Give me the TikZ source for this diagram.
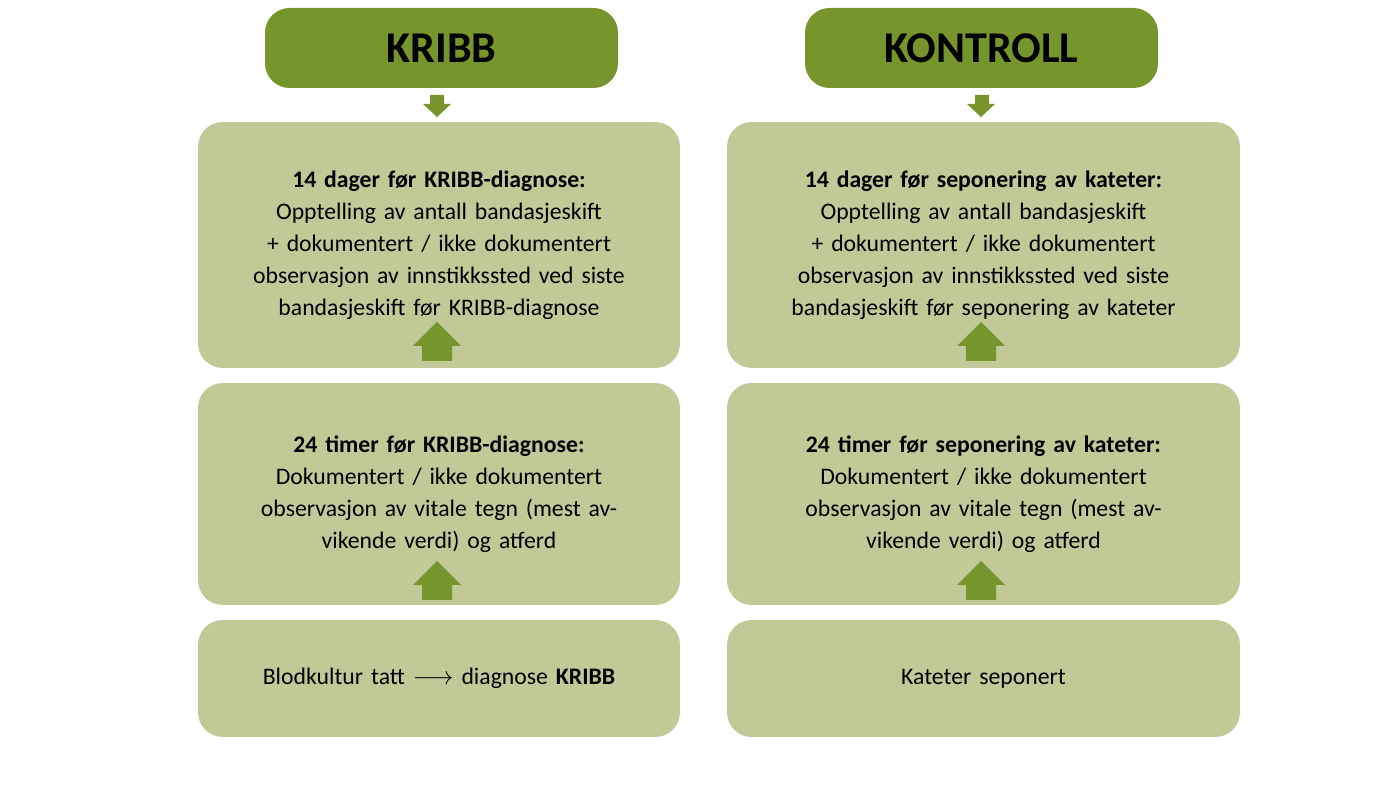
\documentclass[tikz,border=0pt]{standalone}
\usepackage{fontspec}
\setmainfont{Carlito}
\usetikzlibrary{calc,positioning}
\definecolor{darkgreen}{HTML}{77952D}
\definecolor{lightgreen}{HTML}{C2C996}

\newcommand{\blockarrow}[4]{% top y, centre x, shaft half, head half (px)
  \fill[darkgreen] ($(#2,#1)+(-#3,0)$) -- ++(2*#3,0) -- ++(0,-15) -- ++(#4-#3,0)
    -- ($(#2,#1)+(0,-39)$) -- ($(#2,#1)+(-#4,-15)$) -- ++(#4-#3,0) -- cycle;}

\begin{document}
\begin{tikzpicture}[x=0.02cm, y=-0.02cm,
    head_style/.style={rectangle, rounded corners=14pt, fill=darkgreen, minimum width=7.06cm,
      minimum height=1.6cm, font=\fontsize{25}{30}\selectfont\bfseries},
    box_style/.style={rectangle, rounded corners=14pt, fill=lightgreen, minimum width=9.64cm,
      align=center, text width=9.4cm, font=\fontsize{13.5}{18.2}\selectfont}]

  \useasboundingbox (0,0) rectangle (1400,786);

  % left column
  \node[head_style] (h1) at (441.5,48) {KRIBB};
  \node[box_style, minimum height=4.92cm] (a1) at (439,245) {\textbf{14 dager før KRIBB-diagnose:}\\
    Opptelling av antall bandasjeskift\\ + dokumentert / ikke dokumentert\\
    observasjon av innstikkssted ved siste\\ bandasjeskift før KRIBB-diagnose};
  \node[box_style, minimum height=4.44cm] (a2) at (439,494) {\textbf{24 timer før KRIBB-diagnose:}\\
    Dokumentert / ikke dokumentert\\ observasjon av vitale tegn (mest av-\\ vikende verdi) og atferd};
  \node[box_style, minimum height=2.34cm] (a3) at (439,678.5) {Blodkultur tatt $\longrightarrow$ diagnose \textbf{KRIBB}};

  % right column
  \node[head_style] (h2) at (981.5,48) {KONTROLL};
  \node[box_style, minimum width=10.26cm, text width=10cm, minimum height=4.92cm] (b1) at (983.5,245)
    {\textbf{14 dager før seponering av kateter:}\\
    Opptelling av antall bandasjeskift\\ + dokumentert / ikke dokumentert\\
    observasjon av innstikkssted ved siste\\ bandasjeskift før seponering av kateter};
  \node[box_style, minimum width=10.26cm, text width=10cm, minimum height=4.44cm] (b2) at (983.5,494)
    {\textbf{24 timer før seponering av kateter:}\\
    Dokumentert / ikke dokumentert\\ observasjon av vitale tegn (mest av-\\ vikende verdi) og atferd};
  \node[box_style, minimum width=10.26cm, text width=10cm, minimum height=2.34cm] (b3) at (983.5,678.5) {Kateter seponert};

  % arrows
  \fill[darkgreen] (430,95) rectangle (444,104) (423,104) -- (451,104) -- (437,117) -- cycle;
  \fill[darkgreen] (975,95) rectangle (989,104) (967,104) -- (995,104) -- (981,117) -- cycle;
  \blockarrow{361}{437}{15}{24}
  \blockarrow{600}{437}{15}{24}
  \blockarrow{361}{981}{15}{24}
  \blockarrow{600}{981}{15}{24}
\end{tikzpicture}
\end{document}
